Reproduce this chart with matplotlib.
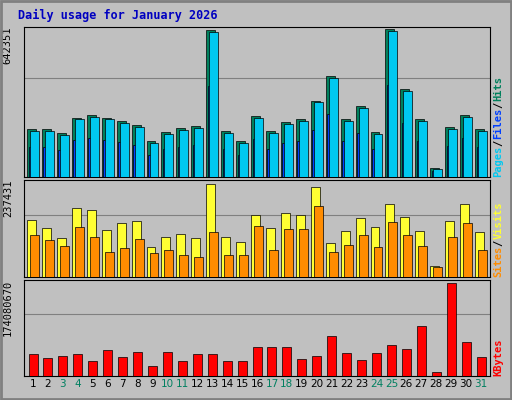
import matplotlib
matplotlib.use("Agg")
import matplotlib.pyplot as plt
import numpy as np

days = list(range(1, 32))
weekend = [3, 4, 10, 11, 17, 18, 24, 25, 31]
hits = [208e3,208e3,190e3,257e3,270e3,257e3,244e3,226e3,155e3,195e3,213e3,222e3,638e3,199e3,155e3,266e3,199e3,239e3,253e3,332e3,439e3,253e3,310e3,195e3,642351,381e3,253e3,40e3,217e3,270e3,208e3]
files = [h*0.62 for h in hits]
pages = [200e3,200e3,182e3,250e3,262e3,250e3,236e3,218e3,148e3,188e3,205e3,214e3,630e3,192e3,148e3,258e3,191e3,231e3,245e3,324e3,431e3,245e3,302e3,188e3,634e3,373e3,245e3,36e3,209e3,262e3,200e3]
visits = [146e3,125e3,99e3,175e3,170e3,120e3,138e3,143e3,76e3,102e3,110e3,99e3,237431,102e3,89e3,159e3,125e3,162e3,159e3,230e3,86e3,117e3,151e3,128e3,185e3,154e3,117e3,29e3,143e3,185e3,115e3]
sites = [107e3,94e3,78e3,128e3,102e3,63e3,73e3,97e3,60e3,70e3,55e3,50e3,115e3,55e3,55e3,130e3,68e3,123e3,123e3,180e3,63e3,81e3,107e3,76e3,141e3,107e3,78e3,26e3,102e3,138e3,68e3]
kbytes = [40.6,32.9,36.8,40.6,27.1,48.4,34.8,44.5,19.3,44.5,27.1,40.6,40.6,27.1,27.1,54.2,54.2,54.2,30.9,36.8,75.4,42.6,29.0,42.6,58.0,50.3,92.8,7.7,174.080670,63.8,34.8]
kbytes = [k*1e6 for k in kbytes]

BG = "#C0C0C0"
fig = plt.figure(figsize=(5.12, 4.0), dpi=100, facecolor=BG)
fig.add_artist(plt.Rectangle((0.002, 0.002), 0.996, 0.996, transform=fig.transFigure,
                             fill=False, edgecolor="#808080", lw=2))
fig.text(0.035, 0.962, "Daily usage for January 2026", color="#0000C0",
         family="DejaVu Sans Mono", fontweight="bold", fontsize=8.5, va="center")

x = np.array(days)
rects = [(0.5575, 0.375), (0.3075, 0.2425), (0.06, 0.24)]
axes = []
for (b, h) in rects:
    ax = fig.add_axes([0.047, b, 0.91, h], facecolor=BG)
    ax.set_xlim(0.4, 31.6)
    for s in ax.spines.values():
        s.set_color("black"); s.set_linewidth(0.8)
    ax.set_yticks([])
    axes.append(ax)

def bar(ax, off, vals, color, w):
    ax.bar(x + off, vals, width=w, color=color, edgecolor="black", lw=0.5, zorder=3)

a1, a2, a3 = axes
bar(a1, -0.1, hits, "#00805C", 0.6)
bar(a1, 0.0, files, "#0040FF", 0.6)
bar(a1, 0.1, pages, "#00C8F0", 0.6)
a1.set_ylim(0, max(hits) * 1.015)
bar(a2, -0.1, visits, "#FFFF33", 0.6)
bar(a2, 0.1, sites, "#FF8C00", 0.6)
a2.set_ylim(0, max(visits) * 1.04)
bar(a3, 0, kbytes, "#FF0000", 0.6)
a3.set_ylim(0, max(kbytes) * 1.03)

for ax, m in [(a1, max(hits)), (a2, max(visits)), (a3, max(kbytes))]:
    ax.axhline(m * 2 / 3, color="#808080", lw=0.8, zorder=1)
    ax.set_xticks([])
    ax.text(-0.035, 1.0, f"{int(round(m))}", transform=ax.transAxes, rotation=90,
            ha="center", va="top", fontsize=7.5, family="DejaVu Sans Mono")

a3.set_xticks(days)
a3.set_xticklabels([str(d) for d in days], fontsize=7.5)
for t, d in zip(a3.get_xticklabels(), days):
    t.set_color("#008060" if d in weekend else "black")
a3.tick_params(axis="x", length=0, pad=2)

def rlabel(ax, parts):
    y = 0.0
    for txt, c in parts:
        ax.text(1.018, y, txt, transform=ax.transAxes, rotation=90, color=c,
                ha="center", va="bottom", fontsize=7.5, family="DejaVu Sans Mono",
                fontweight="bold")
        y += len(txt) * 0.042 * (0.375 / ax.get_position().height)
rlabel(a1, [("Pages", "#00C8F0"), ("/", "black"), ("Files", "#0040FF"), ("/", "black"), ("Hits", "#00805C")])
rlabel(a2, [("Sites", "#FF8C00"), ("/", "black"), ("Visits", "#FFFF33")])
rlabel(a3, [("KBytes", "#FF0000")])

fig.savefig("out.png", dpi=100, facecolor=BG)
